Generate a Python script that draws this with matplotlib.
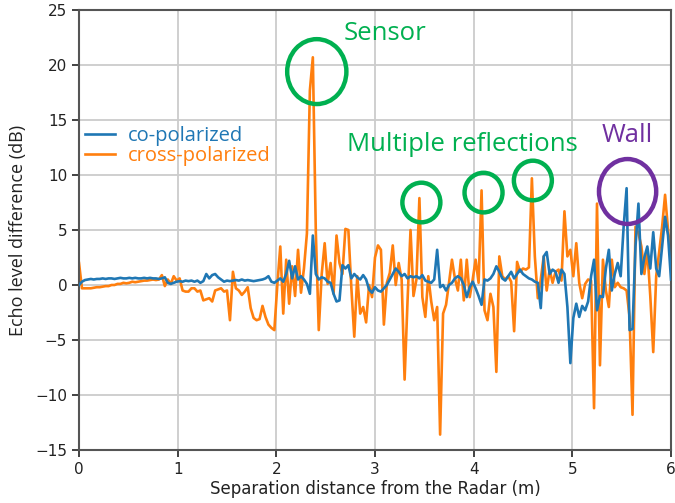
import numpy as np
import matplotlib
matplotlib.use("Agg")
import matplotlib.pyplot as plt
from matplotlib.patches import Ellipse

# separation distance (m), 0.03 m step
distance = np.round(np.arange(201) * 0.03, 2)

co_pol = [
    0.0, 0.3, 0.45, 0.5, 0.55, 0.5, 0.55, 0.55, 0.6, 0.55, 0.6,
    0.6, 0.55, 0.6, 0.65, 0.6, 0.6, 0.65, 0.6, 0.65, 0.6,
    0.6, 0.65, 0.6, 0.65, 0.6, 0.6, 0.55, 0.6, 0.7, 0.2,
    0.1, 0.2, 0.3, 0.35, 0.3, 0.4, 0.35, 0.4, 0.3, 0.4,
    0.2, 0.35, 1.0, 0.6, 0.9, 1.0, 0.7, 0.5, 0.3, 0.4,
    0.35, 0.4, 0.45, 0.4, 0.5, 0.4, 0.45, 0.4, 0.35, 0.4,
    0.45, 0.5, 0.6, 0.8, 0.3, 0.2, 0.4, 0.6, 0.3, 1.0,
    2.2, 0.6, 1.7, 0.5, 0.8, 0.5, 0.1, -0.8, 4.5, 1.0,
    0.5, 0.7, 0.6, 0.3, 0.2, -0.8, -1.5, -1.4, 1.8, 1.5,
    1.8, 0.6, 1.0, 0.7, 0.5, 0.9, 0.5, -0.4, -0.7, -0.2,
    -0.5, -0.6, -0.3, 0.0, 0.5, 1.0, 1.5, 1.2, 0.8, 1.0,
    0.6, 0.8, 0.7, 0.8, 0.6, 0.9, 0.4, 0.3, 0.2, 0.5,
    3.2, -0.2, 0.0, -0.5, 0.0, 0.2, 0.6, 0.8, 0.6, 0.0,
    -1.1, -0.2, 0.3, -0.3, -1.0, -1.8, 0.5, 0.4, 0.6, 1.0,
    1.7, 1.2, 0.6, 0.4, 0.8, 1.2, 0.6, 1.0, 1.4, 1.0,
    0.8, 0.6, 0.5, 0.3, 0.2, -2.1, 2.6, 3.0, 1.0, 1.4,
    1.2, 0.2, 1.4, 1.0, -2.0, -7.1, -3.0, -1.7, -2.9, -1.9,
    -2.3, -1.5, 0.8, 2.3, -2.3, -1.0, -1.1, 1.5, 3.2, -0.5,
    1.0, 2.0, 0.8, 5.3, 8.8, -4.1, -4.0, 3.5, 7.4, 1.0,
    2.5, 3.5, 1.5, 4.8, 1.5, 0.8, 3.5, 6.2, 4.5, 0.5,
]

cross_pol = [
    2.0, -0.3, -0.3, -0.3, -0.3, -0.25, -0.2, -0.2, -0.15, -0.1, -0.1,
    0.0, 0.0, 0.1, 0.1, 0.2, 0.15, 0.2, 0.3, 0.25, 0.3,
    0.35, 0.4, 0.4, 0.45, 0.5, 0.45, 0.5, 0.9, -0.1, 0.5,
    0.1, 0.8, 0.4, 0.6, -0.5, -0.6, -0.6, -0.3, -0.3, -0.6,
    -0.5, -1.4, -1.3, -1.2, -1.5, -0.5, -0.4, -0.3, -0.6, -0.5,
    -3.2, 1.2, -0.3, -0.5, -0.9, -0.6, -0.2, -2.1, -3.0, -3.2,
    -3.1, -1.9, -2.9, -3.6, -3.9, -4.1, 0.0, 3.5, -2.6, 2.3,
    -1.7, 1.7, -1.0, 3.2, -0.7, 1.5, 4.7, 17.7, 20.7, 4.9,
    -4.1, 1.0, 3.8, 0.1, 2.0, -0.8, 4.5, 2.0, 1.0, 5.1,
    5.0, -0.2, -4.7, 0.8, -2.6, -2.0, -3.4, 0.0, -1.1, 2.5,
    3.6, 3.2, -3.6, 0.2, 1.1, 3.6, 0.0, 2.0, 0.5, -8.6,
    -1.4, 5.0, -1.0, 0.5, 7.9, -1.1, -2.9, 0.8, -1.5, -3.2,
    -2.0, -13.6, -2.6, -1.8, 0.2, 2.3, 0.6, -0.5, 2.3, -1.4,
    2.3, -1.1, 0.5, 2.3, 0.2, 8.6, -2.3, -3.2, -0.8, -2.0,
    -7.9, 2.6, 0.8, 0.5, 0.8, 0.3, -4.2, 2.1, 1.2, 1.5,
    1.4, 1.6, 9.7, 2.6, -1.2, 0.5, 2.6, -0.5, 1.4, 0.2,
    1.2, 1.4, 0.4, 6.7, 2.6, 3.2, 0.8, 3.8, 0.2, -1.2,
    0.1, 0.5, 0.4, -11.2, 7.4, -7.3, 2.3, -0.5, -2.0, 2.3,
    -0.2, 0.2, -0.2, -0.3, -0.5, -2.9, -11.8, 5.3, 4.7, 3.5,
    1.0, 3.2, -1.0, -6.1, 0.8, 3.0, 5.3, 8.2, 5.0, 2.3,
]

# annotation circles: (centre x, centre y, width, height, colour)
circles = [
    (2.41, 19.4, 0.60, 5.9, "#00b050"),
    (3.47, 7.5, 0.385, 3.6, "#00b050"),
    (4.10, 8.4, 0.385, 3.6, "#00b050"),
    (4.60, 9.5, 0.385, 3.6, "#00b050"),
    (5.56, 8.5, 0.58, 5.9, "#7030a0"),
]
notes = [
    (3.10, 22.9, "Sensor", "#00b050"),
    (3.89, 12.8, "Multiple reflections", "#00b050"),
    (5.56, 13.6, "Wall", "#7030a0"),
]

fig = plt.figure(figsize=(6.75, 5.03), dpi=100)
ax = fig.add_axes([79 / 675, 53 / 503, 592 / 675, 440 / 503])

ax.plot(distance, co_pol, color="#1f77b4", lw=1.9, label="co-polarized", zorder=3)
ax.plot(distance, cross_pol, color="#ff7f0e", lw=1.9, label="cross-polarized", zorder=2)

for cx, cy, w, h, c in circles:
    ax.add_patch(Ellipse((cx, cy), w, h, fill=False, edgecolor=c, lw=3.2, zorder=4, clip_on=False))
for tx, ty, s, c in notes:
    ax.text(tx, ty, s, color=c, fontsize=18.5, family="Open Sans", ha="center", va="center")

ax.set_xlim(0, 6)
ax.set_ylim(-15, 25)
ax.set_xticks(range(0, 7))
ax.set_yticks(range(-15, 26, 5))
ax.grid(True, color="#cccccc", lw=1.3)
ax.set_axisbelow(True)
ax.tick_params(labelsize=11, width=1.2, length=5, colors="#222222")
for sp in ax.spines.values():
    sp.set_color("#555555")
    sp.set_linewidth(1.5)

ax.set_xlabel("Separation distance from the Radar (m)", fontsize=12, color="#222222", labelpad=2)
ax.set_ylabel("Echo level difference (dB)", fontsize=13, family="Open Sans", color="#222222", labelpad=6)

leg = ax.legend(loc="upper left", bbox_to_anchor=(0.0, 0.749), frameon=False,
                labelcolor="linecolor", prop={"family": "Open Sans", "size": 14.5},
                handlelength=1.5, handletextpad=0.65, labelspacing=0.0,
                borderaxespad=0.0, borderpad=0.3)

fig.savefig("out.png", dpi=100)
